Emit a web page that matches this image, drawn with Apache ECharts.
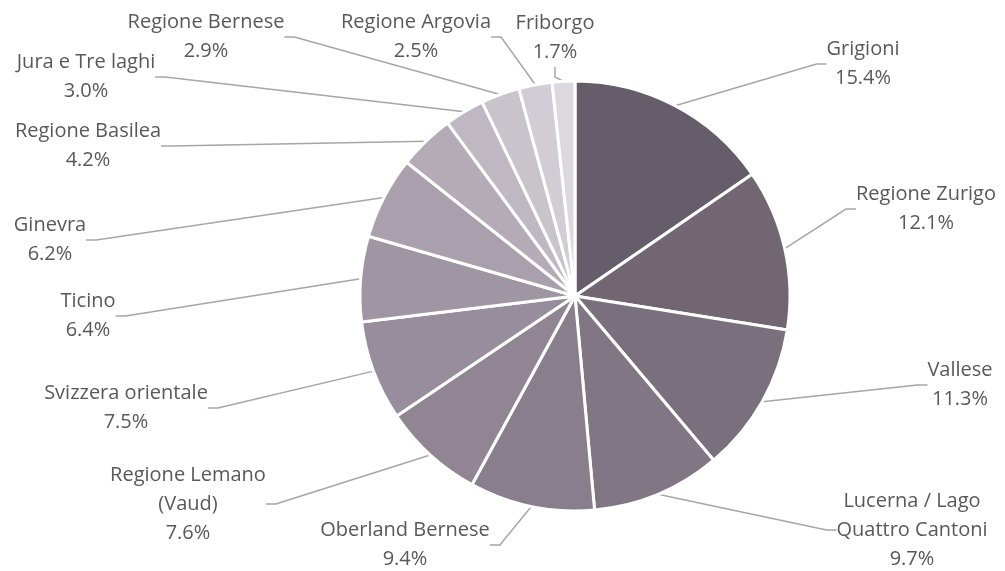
<!DOCTYPE html>
<html>
<head>
<meta charset="utf-8">
<script src="https://cdn.jsdelivr.net/npm/echarts@6/dist/echarts.min.js"></script>
<style>
  html, body { margin: 0; padding: 0; background: #fff; }
  #chart { width: 1005px; height: 571px; }
</style>
</head>
<body>
<div id="chart"></div>
<script>
// regions and their share (%)
const regions = [
  'Grigioni', 'Regione Zurigo', 'Vallese', 'Lucerna / Lago\nQuattro Cantoni',
  'Oberland Bernese', 'Regione Lemano\n(Vaud)', 'Svizzera orientale', 'Ticino',
  'Ginevra', 'Regione Basilea', 'Jura e Tre laghi', 'Regione Bernese',
  'Regione Argovia', 'Friborgo'
]
const shares = [15.4, 12.1, 11.3, 9.7, 9.4, 7.6, 7.5, 6.4, 6.2, 4.2, 3.0, 2.9, 2.5, 1.7]

const sliceColors = [
  '#655d69', '#716671', '#7a6f7c', '#817684', '#897e8b', '#918594', '#988d9c',
  '#a096a3', '#aaa0ad', '#b4abb7', '#bfb8c2', '#c9c3cc', '#d2cdd5', '#dcd8df'
]

// label centres, placed like the original
const labelSpots = [
  [863, 64], [926, 209], [960, 385], [912, 530], [405, 545], [188, 504], [126, 408],
  [88, 316], [50, 240], [88, 146], [86, 77], [206, 37], [416, 37], [555, 38]
]

const chart = echarts.init(document.getElementById('chart'))

chart.setOption({
  animation: false,
  series: [
    {
      type: 'pie',
      center: [575, 296],
      radius: 215,
      startAngle: 90,
      clockwise: true,
      data: regions.map((name, i) => ({
        name,
        value: shares[i],
        itemStyle: { color: sliceColors[i] },
      })),
      itemStyle: { borderColor: '#fff', borderWidth: 3 },
      label: {
        show: true,
        formatter: (p) => `${p.name}\n${p.value.toFixed(1)}%`,
        fontFamily: 'Open Sans',
        fontSize: 20,
        lineHeight: 29,
        color: '#595959',
        align: 'center',
      },
      labelLine: {
        show: true,
        length: 20,
        length2: 10,
        lineStyle: { color: '#a6a6a6', width: 1.5 },
      },
      labelLayout: (params) => ({
        x: labelSpots[params.dataIndex][0],
        y: labelSpots[params.dataIndex][1],
        align: 'center',
        verticalAlign: 'middle',
      }),
    },
  ],
})
</script>
</body>
</html>
